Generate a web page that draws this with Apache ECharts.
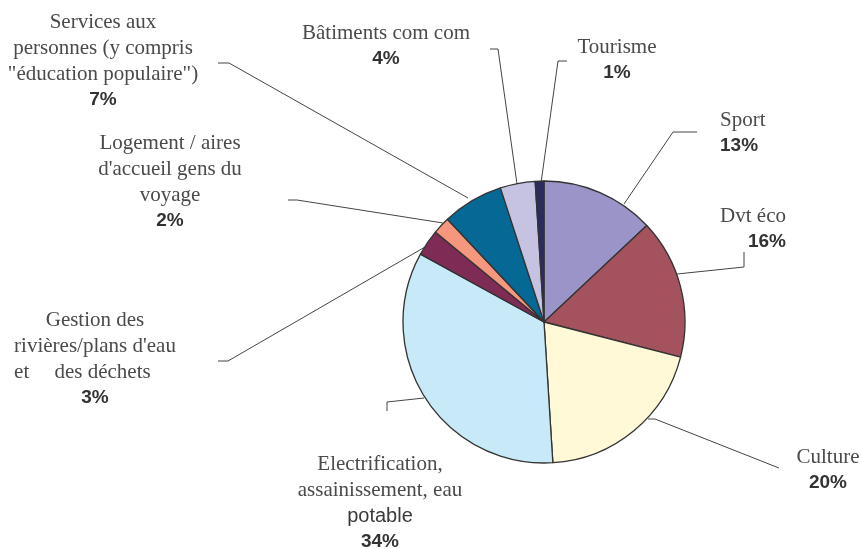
<!DOCTYPE html>
<html>
<head>
<meta charset="utf-8">
<script src="https://cdn.jsdelivr.net/npm/echarts@6/dist/echarts.min.js"></script>
<style>
  html, body { margin: 0; padding: 0; background: #fff; }
  #chart { width: 861px; height: 549px; }
</style>
</head>
<body>
<div id="chart"></div>
<script>
// categories, clockwise from 12 o'clock
const categories = [
  "Sport",
  "Dvt éco",
  "Culture",
  "Electrification, assainissement, eau potable",
  "Gestion des rivières/plans d'eau et des déchets",
  "Logement / aires d'accueil gens du voyage",
  "Services aux personnes (y compris \"éducation populaire\")",
  "Bâtiments com com",
  "Tourisme"
];
const values = [13, 16, 20, 34, 3, 2, 7, 4, 1];

// label text as displayed (line breaks of the original)
const labelText = [
  ["Sport"],
  ["Dvt éco"],
  ["Culture"],
  ["Electrification,", "assainissement, eau", "{s|potable}"],
  ["Gestion des", "rivières/plans d'eau", "{et|et}{n|des déchets}"],
  ["Logement / aires", "d'accueil gens du", "voyage"],
  ["Services aux", "personnes (y compris", "\"éducation populaire\")"],
  ["Bâtiments com com"],
  ["Tourisme"]
];

const colors = ["#9a94c8", "#a3525e", "#fff9d8", "#c7e9f8", "#7e2b55", "#f4977c", "#056895", "#c6c3e2", "#2b2b5e"];

// label anchor [x, top, align] and leader line points
const labelPos = [
  [720, 107, "left"],
  [786, 203, "right"],
  [828, 444, "center"],
  [380, 451, "center"],
  [95, 307, "center"],
  [170, 130, "center"],
  [103, 9, "center"],
  [386, 20, "center"],
  [617, 34, "center"]
];
const guidePts = [
  [[624, 204], [673, 132], [697, 132]],
  [[677, 274], [744, 267], [744, 252]],
  [[648, 419], [655, 419], [779, 468]],
  [[424, 398], [387, 402], [387, 411]],
  [[425, 247], [228, 361], [218, 361]],
  [[443, 223], [297, 200], [288, 200]],
  [[468, 198], [229, 63], [218, 63]],
  [[517, 184], [498, 49], [490, 49]],
  [[541, 183], [558, 61], [567, 61]]
];

const myChart = echarts.init(document.getElementById("chart"));

const option = {
  animation: false,
  color: colors,
  series: [
    {
      type: "pie",
      center: [544, 322],
      radius: 141,
      startAngle: 90,
      clockwise: true,
      avoidLabelOverlap: false,
      itemStyle: {
        borderColor: "#333",
        borderWidth: 1.3
      },
      label: {
        show: true,
        position: "outside",
        formatter: function(p) {
          const lines = labelText[p.dataIndex].map(l => (l.charAt(0) === "{" ? l : "{n|" + l + "}"));
          return lines.join("\n") + "\n{p|" + p.value + "%}";
        },
        rich: {
          n: {
            fontFamily: "Liberation Serif",
            fontSize: 21,
            color: "#4a4a4a",
            lineHeight: 26
          },
          et: {
            fontFamily: "Liberation Serif",
            fontSize: 21,
            color: "#4a4a4a",
            lineHeight: 26,
            align: "left"
          },
          s: {
            fontFamily: "Liberation Sans",
            fontSize: 20,
            color: "#3a3a3a",
            lineHeight: 26
          },
          p: {
            fontFamily: "Liberation Sans",
            fontWeight: "bold",
            fontSize: 19,
            color: "#333",
            lineHeight: 25
          }
        }
      },
      labelLine: {
        show: true,
        lineStyle: {
          color: "#444",
          width: 1
        }
      },
      labelLayout: function(params) {
        const i = params.dataIndex;
        return {
          x: labelPos[i][0],
          y: labelPos[i][1],
          align: labelPos[i][2],
          verticalAlign: "top",
          labelLinePoints: guidePts[i]
        };
      },
      data: categories.map((name, i) => ({ name: name, value: values[i] }))
    }
  ]
};

myChart.setOption(option);
</script>
</body>
</html>
